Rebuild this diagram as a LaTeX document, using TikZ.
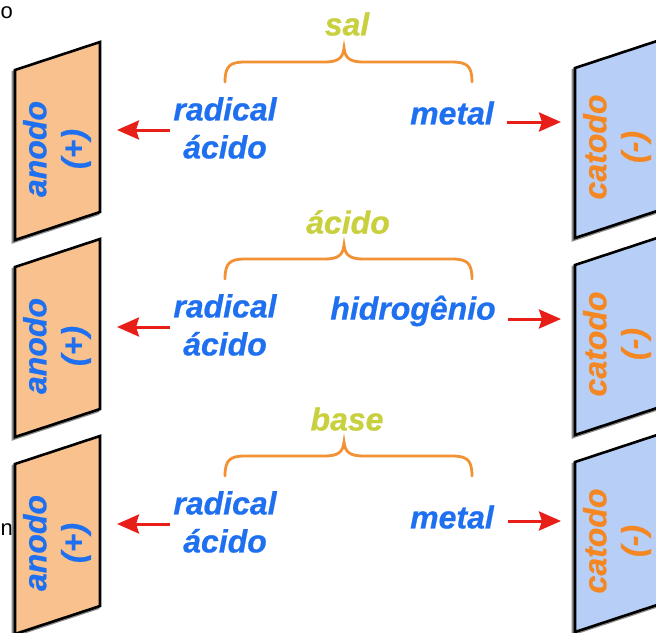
\documentclass[tikz,border=0pt]{standalone}
\usepackage{fontspec}
\setmainfont[BoldItalicFeatures={FakeBold=0.6}]{Liberation Sans}
\usetikzlibrary{arrows.meta}
\definecolor{tblue}{RGB}{30,112,240}
\definecolor{tgreen}{RGB}{200,208,62}
\definecolor{brace}{RGB}{242,146,52}
\definecolor{torange}{RGB}{245,135,35}
\definecolor{anfill}{RGB}{248,193,142}
\definecolor{catfill}{RGB}{183,207,246}
\definecolor{arred}{RGB}{232,30,24}
\tikzset{
  lbl/.style={font=\fontsize{32}{38}\selectfont\bfseries\itshape, inner sep=0pt, align=center},
  bluetxt/.style={lbl, text=tblue},
  head/.style={lbl, text=tgreen},
  anodepanel/.style={fill=anfill, draw=black, line width=2.6pt, line join=miter},
  catpanel/.style={fill=catfill, draw=black, line width=2.6pt, line join=miter},
  shadowpanel/.style={draw=black!45, line width=2.6pt},
  bracepath/.style={draw=brace, line width=2.8pt, line cap=round},
  redarrow/.style={draw=arred, line width=3pt, -{Stealth[length=22pt,width=19pt,inset=3pt]}},
  stray/.style={font=\fontsize{22}{22}\selectfont, inner sep=0pt, text=black}
}
\begin{document}
\begin{tikzpicture}[x=1pt,y=-1pt]
\useasboundingbox (0,0) rectangle (656,632);
\fill[white] (0,0) rectangle (656,632);
% stray fragments at the left edge
\node[stray, anchor=west] (s1) at (0.5,13) {o};
\node[stray, anchor=west] (s2) at (0.5,530) {n};
\foreach \i/\dy in {1/0,2/197,3/394}{
  \begin{scope}[yshift=-\dy pt]
    % anode panel
    \draw[shadowpanel] (13,72) -- (98,44) -- (98,214) -- (13,242) -- cycle;
    \draw[anodepanel] (15,70) -- (100,42) -- (100,212) -- (15,240) -- cycle;
    \node[lbl, text=tblue, rotate=90] (an\i) at (57,149) {anodo\\(+)};
    % cathode panel
    \draw[shadowpanel] (573,70) -- (658,42) -- (658,212) -- (573,240) -- cycle;
    \draw[catpanel] (575,68) -- (660,40) -- (660,210) -- (575,238) -- cycle;
    \node[lbl, text=torange, rotate=90] (ca\i) at (617,147) {catodo\\(-)};
    % brace
    \draw[bracepath] (225,82) .. controls (225,66) and (230,62) .. (245,62)
      -- (325,62) .. controls (338,62) and (343,58) .. (344,48)
      .. controls (345,58) and (350,62) .. (363,62)
      -- (452,62) .. controls (467,62) and (472,66) .. (472,82);
    \node[bluetxt] (rad\i) at (225,128) {radical\\ácido};
    \coordinate (lt\i) at (170,130);
    \coordinate (lh\i) at (117,130);
    \draw[redarrow] (lt\i) -- (lh\i);
  \end{scope}
}
\node[head] (h1) at (347,24) {sal};
\node[head] (h2) at (348,222) {ácido};
\node[head] (h3) at (347,419) {base};
\node[bluetxt] (m1) at (452,113) {metal};
\node[bluetxt] (m2) at (413,311) {hidrogênio};
\node[bluetxt] (m3) at (452,517) {metal};
\coordinate (rt1) at (507,122); \coordinate (rh1) at (561,122);
\coordinate (rt2) at (508,319); \coordinate (rh2) at (561,319);
\coordinate (rt3) at (508,521); \coordinate (rh3) at (561,521);
\draw[redarrow] (rt1) -- (rh1);
\draw[redarrow] (rt2) -- (rh2);
\draw[redarrow] (rt3) -- (rh3);
\end{tikzpicture}
\end{document}
